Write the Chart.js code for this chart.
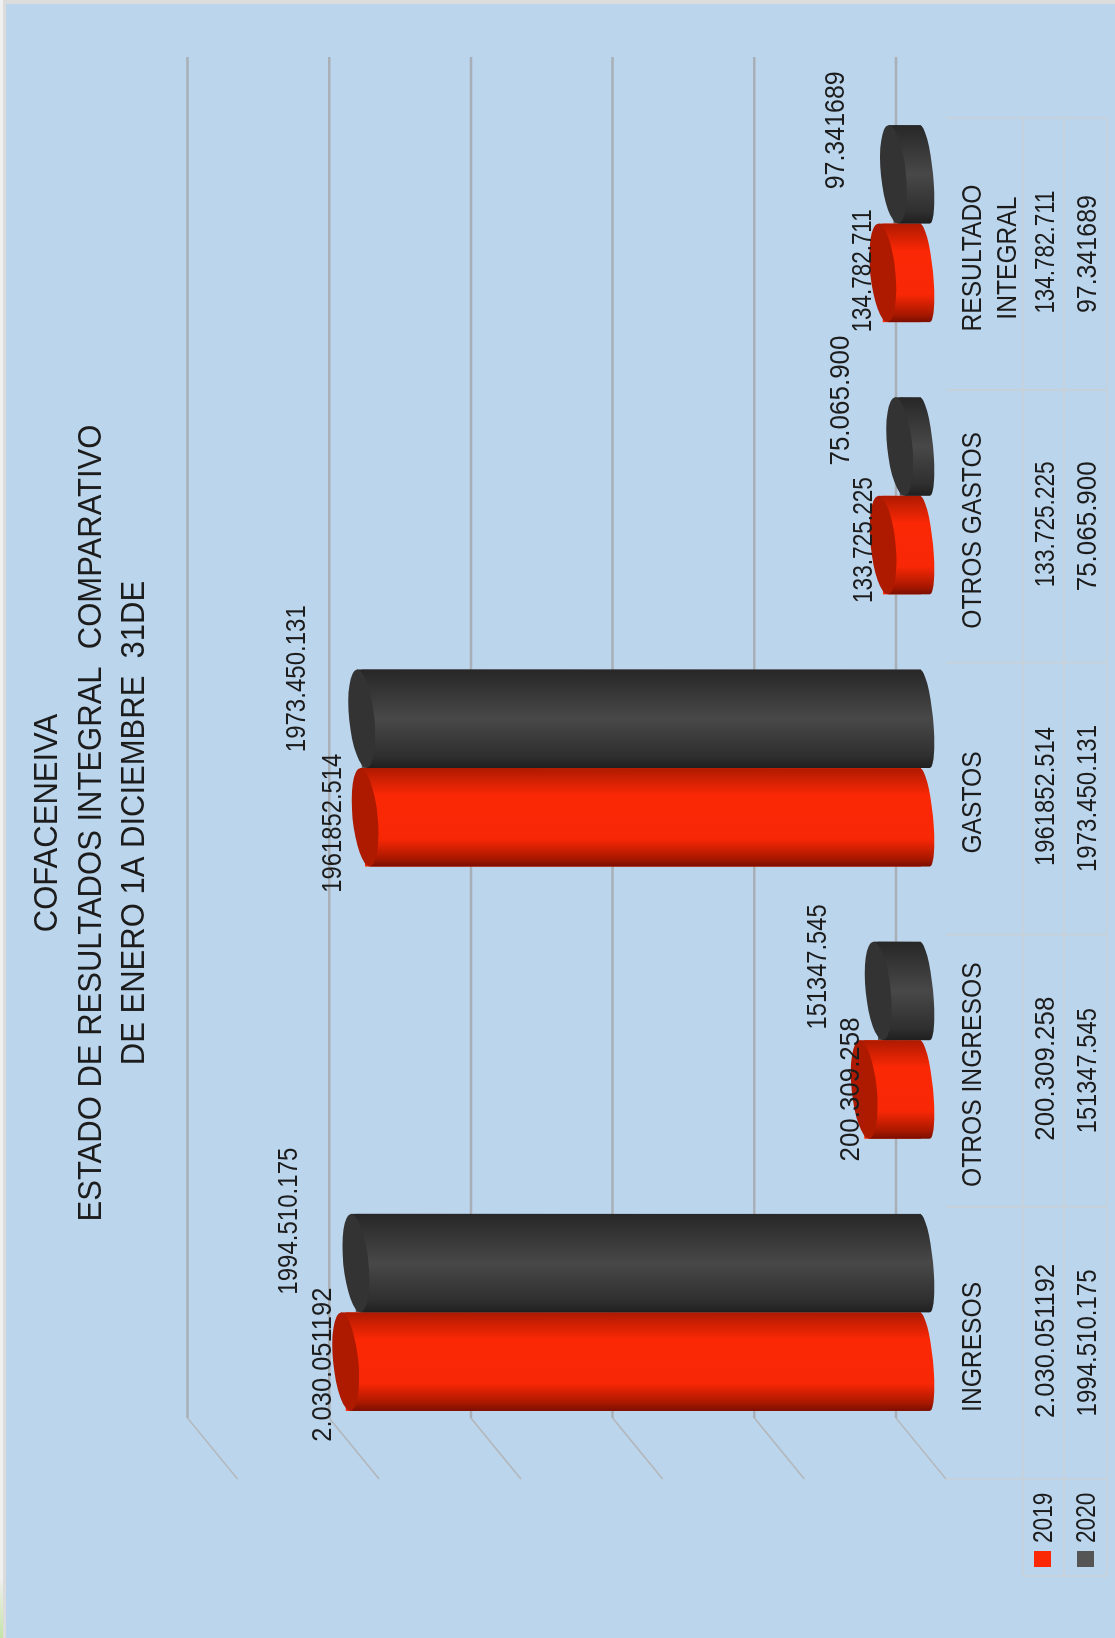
<!DOCTYPE html>
<html lang="es">
<head>
<meta charset="utf-8">
<title>COFACENEIVA</title>
<script src="https://cdn.jsdelivr.net/npm/chart.js@4"></script>
<style>
    html, body { margin: 0; padding: 0; background: #dcdcdc; overflow: hidden; }
    #lienzo {
        position: absolute; left: 0; top: 0;
        transform-origin: top left;
        /* el original está girado: se lee de abajo hacia arriba */
        transform: translate(0, 1638px) rotate(-90deg);
    }
</style>
</head>
<body>
<canvas id="lienzo" width="1638" height="1115"></canvas>
<script>
// Datos
const categorias = ['INGRESOS', 'OTROS INGRESOS', 'GASTOS', 'OTROS GASTOS', ['RESULTADO', 'INTEGRAL']];
const serie2019 = [2030051192, 200309258, 1961852514, 133725225, 134782711];
const serie2020 = [1994510175, 151347545, 1973450131, 75065900, 97341689];
const etiquetas2019 = ['2.030.051192', '200.309.258', '1961852.514', '133.725.225', '134.782.711'];
const etiquetas2020 = ['1994.510.175', '151347.545', '1973.450.131', '75.065.900', '97.341689'];
const marcasEje = [0, 500000000, 1000000000, 1500000000, 2000000000, 2500000000];
const titulo = ['COFACENEIVA', 'ESTADO DE RESULTADOS INTEGRAL  COMPARATIVO', 'DE ENERO 1A DICIEMBRE  31DE'];

const FUENTE = '"Liberation Sans", sans-serif';
const COLOR_TEXTO = '#1c1c1c';
const PROF_X = 30.5; // desplazamiento de la profundidad 3D
const PROF_Y = 25;
const INCLINACION = 0.1; // las elipses del cilindro van un poco inclinadas

// Pequeños ajustes de cada etiqueta de datos, como en el original
const ajusteX2019 = [-3, 0, -6, 5, 2];
const ajusteY2019 = [0, 9, -10, 3, 2];
const ajusteX2020 = [0, -18, -2, 4, 2];
const ajusteY2020 = [-4, 2, -2, 4, 5];
// Ancho de cada número en el original
const ancho2019 = [154, 144, 139, 126, 123];
const ancho2020 = [147, 125, 147, 130, 118];

// Comprime el texto a lo ancho, el original usa una letra estrecha
function textoEstrecho(ctx, texto, x, y, factor) {
    ctx.fillText(texto, x, y, ctx.measureText(texto).width * factor);
}

// Fondo de la hoja
const pluginFondo = {
    id: 'fondo',
    beforeDraw(chart) {
        const ctx = chart.ctx;
        ctx.save();
        ctx.fillStyle = '#f0f0f0';
        ctx.fillRect(0, 0, 1638, 3);
        const verde = ctx.createLinearGradient(0, 0, 60, 0);
        verde.addColorStop(0, '#c4e4a8');
        verde.addColorStop(1, '#f0f0f0');
        ctx.fillStyle = verde;
        ctx.fillRect(0, 0, 60, 3);
        ctx.fillStyle = '#bbd5ec';
        ctx.fillRect(0, 6, 1634, 1109);
        ctx.restore();
    }
};

// Pared del fondo: líneas de división y diagonales del piso
const pluginPared = {
    id: 'pared',
    beforeDatasetsDraw(chart) {
        const ctx = chart.ctx;
        const { x, y } = chart.scales;
        ctx.save();
        marcasEje.forEach(valor => {
            const py = y.getPixelForValue(valor) - PROF_Y;
            ctx.strokeStyle = '#a9afb6';
            ctx.lineWidth = 2.5;
            ctx.beginPath();
            ctx.moveTo(x.left + PROF_X, py);
            ctx.lineTo(x.right + PROF_X, py);
            ctx.stroke();
            ctx.strokeStyle = '#b3b6ba';
            ctx.lineWidth = 1.5;
            ctx.beginPath();
            ctx.moveTo(x.left + PROF_X, py);
            ctx.lineTo(x.left - PROF_X, py + 2 * PROF_Y);
            ctx.stroke();
        });
        ctx.restore();
    }
};

// Dibuja un cilindro encima de cada barra
function dibujarCilindro(ctx, barra, tonos) {
    const medio = barra.width / 2;
    const izq = barra.x - medio;
    const der = barra.x + medio;
    const giro = Math.atan(INCLINACION);
    const caida = medio * INCLINACION;
    const pie = barra.base + 4;
    const grad = ctx.createLinearGradient(izq, 0, der, 0);
    tonos.cuerpo.forEach(([pos, color]) => grad.addColorStop(pos, color));
    ctx.fillStyle = grad;
    ctx.beginPath();
    ctx.moveTo(izq, barra.y + caida);
    ctx.lineTo(izq, pie + caida);
    ctx.ellipse(barra.x, pie, medio, 8, -giro, Math.PI, 0, true);
    ctx.lineTo(der, barra.y - caida);
    ctx.closePath();
    ctx.fill();
    ctx.fillStyle = tonos.tapa;
    ctx.beginPath();
    ctx.ellipse(barra.x, barra.y, medio, 12.5, -giro, 0, Math.PI * 2);
    ctx.fill();
}

const tonos2019 = {
    tapa: '#ad1a00',
    cuerpo: [[0, '#7a0e00'], [0.08, '#a81800'], [0.28, '#f82705'], [0.72, '#fb2805'], [0.92, '#c41e02'], [1, '#ad1a00']]
};
const tonos2020 = {
    tapa: '#333333',
    cuerpo: [[0, '#1f1f1f'], [0.12, '#2f2f2f'], [0.5, '#484848'], [0.88, '#2f2f2f'], [1, '#272727']]
};

const pluginCilindros = {
    id: 'cilindros',
    afterDatasetsDraw(chart) {
        const ctx = chart.ctx;
        ctx.save();
        // primero 2019 y luego 2020, que queda por encima
        chart.getDatasetMeta(0).data.forEach(b => dibujarCilindro(ctx, b, tonos2019));
        chart.getDatasetMeta(1).data.forEach(b => dibujarCilindro(ctx, b, tonos2020));

        // Etiquetas de datos
        ctx.font = '28px ' + FUENTE;
        ctx.fillStyle = COLOR_TEXTO;
        ctx.textAlign = 'center';
        ctx.textBaseline = 'middle';
        chart.getDatasetMeta(0).data.forEach((b, i) => {
            ctx.fillText(etiquetas2019[i], b.x + ajusteX2019[i], b.y - 22 + ajusteY2019[i], ancho2019[i]);
        });
        chart.getDatasetMeta(1).data.forEach((b, i) => {
            ctx.fillText(etiquetas2020[i], b.x + 42 + ajusteX2020[i], b.y - 62 + ajusteY2020[i], ancho2020[i]);
        });
        ctx.restore();
    }
};

// Título y tabla de datos
const pluginTextos = {
    id: 'textos',
    afterDraw(chart) {
        const ctx = chart.ctx;
        const x = chart.scales.x;
        ctx.save();
        ctx.fillStyle = COLOR_TEXTO;
        ctx.textAlign = 'center';
        ctx.textBaseline = 'middle';

        ctx.font = '33px ' + FUENTE;
        const filasTitulo = [48, 92, 135];
        titulo.forEach((linea, i) => textoEstrecho(ctx, linea, 815, filasTitulo[i], 0.94));

        // Líneas de la tabla
        const finIzq = x.left - PROF_X;
        const finDer = x.right - PROF_X;
        const paso = (x.right - x.left) / categorias.length;
        ctx.strokeStyle = '#c9d0d6';
        ctx.lineWidth = 1.5;
        ctx.beginPath();
        for (let i = 0; i <= categorias.length; i++) {
            ctx.moveTo(finIzq + paso * i, 946);
            ctx.lineTo(finIzq + paso * i, 1107);
        }
        [1023, 1064, 1107].forEach(f => {
            ctx.moveTo(62, f);
            ctx.lineTo(finDer, f);
        });
        ctx.moveTo(62, 1023);
        ctx.lineTo(62, 1107);
        ctx.stroke();

        // Contenido de la tabla
        ctx.font = '28px ' + FUENTE;
        categorias.forEach((cat, i) => {
            const cx = x.getPixelForValue(i) - PROF_X;
            const lineas = Array.isArray(cat) ? cat : [cat];
            lineas.forEach((t, j) => textoEstrecho(ctx, t, cx - 4, 973 + j * 35, 0.88));
            ctx.fillText(etiquetas2019[i], cx + 2, 1046, ancho2019[i]);
            ctx.fillText(etiquetas2020[i], cx, 1088, ancho2020[i]);
        });

        // Leyenda dentro de la tabla
        const series = chart.data.datasets;
        const filas = [1043, 1086];
        series.forEach((s, i) => {
            ctx.fillStyle = s.backgroundColor;
            ctx.fillRect(71, filas[i] - 9, 16, 17);
            ctx.fillStyle = COLOR_TEXTO;
            ctx.textAlign = 'left';
            textoEstrecho(ctx, s.label, 95, filas[i] + 1, 0.81);
        });
        ctx.restore();
    }
};

new Chart(document.getElementById('lienzo'), {
    type: 'bar',
    data: {
        labels: categorias,
        datasets: [
            { label: '2019', data: serie2019, backgroundColor: '#fb2805' },
            { label: '2020', data: serie2020, backgroundColor: '#555555' }
        ]
    },
    options: {
        responsive: false,
        animation: false,
        devicePixelRatio: 1,
        categoryPercentage: 0.724,
        barPercentage: 1,
        layout: { padding: { left: 189.5, right: 87.5, top: 187, bottom: 194 } },
        plugins: { legend: { display: false }, title: { display: false }, tooltip: { enabled: false } },
        scales: {
            x: { display: false },
            y: { display: false, min: 0, max: 2590000000 }
        }
    },
    plugins: [pluginFondo, pluginPared, pluginCilindros, pluginTextos]
});
</script>
</body>
</html>
